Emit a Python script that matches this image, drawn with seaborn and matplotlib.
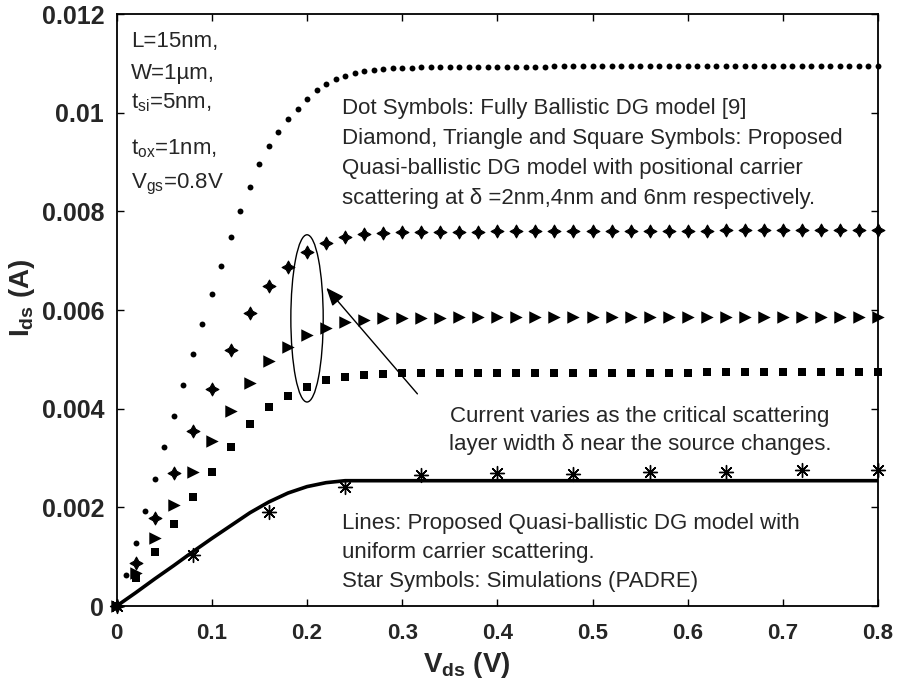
import numpy as np
import pandas as pd
import matplotlib
matplotlib.use('Agg')
import matplotlib.pyplot as plt
from matplotlib.patches import Ellipse
import seaborn as sns

# Vds sweep points (V)
vds_fine = np.round(np.arange(0, 0.801, 0.01), 2)    # fully ballistic model (dots)
vds_coarse = np.round(np.arange(0, 0.801, 0.02), 2)  # quasi-ballistic symbols

# Fully ballistic DG model [9] (A)
ids_ballistic = [
    0, 0.00063, 0.00128, 0.00193, 0.00257, 0.00322, 0.00385, 0.00448, 0.00511, 0.00572,
    0.00632, 0.00690, 0.00747, 0.00801, 0.00850, 0.00896, 0.00933, 0.00961, 0.00987, 0.01008,
    0.01028, 0.01045, 0.01058, 0.01068, 0.01075, 0.01081, 0.01084, 0.01087, 0.01089, 0.01090,
    0.01091, 0.01091, 0.01092, 0.01092, 0.01092, 0.01092, 0.01093, 0.01093, 0.01093, 0.01093,
    0.01093, 0.01093, 0.01093, 0.01093, 0.01093, 0.01093, 0.01094, 0.01094, 0.01094, 0.01094,
    0.01094, 0.01094, 0.01094, 0.01094, 0.01094, 0.01094, 0.01094, 0.01094, 0.01094, 0.01094,
    0.01094, 0.01094, 0.01094, 0.01094, 0.01094, 0.01094, 0.01095, 0.01095, 0.01095, 0.01095,
    0.01095, 0.01095, 0.01095, 0.01095, 0.01095, 0.01095, 0.01095, 0.01095, 0.01095, 0.01095,
    0.01095,
]

# positional scattering, delta = 2nm (diamonds), 4nm (triangles), 6nm (squares)
ids_delta2 = [
    0, 0.00088, 0.00178, 0.00270, 0.00355, 0.00440, 0.00518, 0.00593, 0.00649, 0.00688,
    0.00717, 0.00735, 0.00747, 0.00754, 0.00757, 0.00758, 0.00758, 0.00759, 0.00759, 0.00759,
    0.00760, 0.00760, 0.00760, 0.00760, 0.00760, 0.00761, 0.00761, 0.00761, 0.00761, 0.00761,
    0.00761, 0.00761, 0.00762, 0.00762, 0.00762, 0.00762, 0.00762, 0.00762, 0.00762, 0.00762,
    0.00762,
]
ids_delta4 = [
    0, 0.00066, 0.00138, 0.00205, 0.00272, 0.00335, 0.00396, 0.00453, 0.00497, 0.00524,
    0.00549, 0.00564, 0.00575, 0.00580, 0.00583, 0.00584, 0.00584, 0.00584, 0.00585, 0.00585,
    0.00585, 0.00585, 0.00585, 0.00585, 0.00585, 0.00585, 0.00586, 0.00586, 0.00586, 0.00586,
    0.00586, 0.00586, 0.00586, 0.00586, 0.00586, 0.00586, 0.00586, 0.00586, 0.00586, 0.00586,
    0.00586,
]
ids_delta6 = [
    0, 0.00057, 0.00109, 0.00166, 0.00220, 0.00272, 0.00323, 0.00369, 0.00404, 0.00426,
    0.00443, 0.00458, 0.00465, 0.00468, 0.00471, 0.00472, 0.00472, 0.00472, 0.00472, 0.00472,
    0.00472, 0.00473, 0.00473, 0.00473, 0.00473, 0.00473, 0.00473, 0.00473, 0.00473, 0.00473,
    0.00473, 0.00474, 0.00474, 0.00474, 0.00474, 0.00474, 0.00474, 0.00474, 0.00474, 0.00474,
    0.00474,
]

# uniform carrier scattering model (line)
vds_uniform = [0, 0.02, 0.04, 0.06, 0.08, 0.10, 0.12, 0.14, 0.16, 0.18, 0.20, 0.22, 0.24, 0.26, 0.80]
ids_uniform = [0, 0.00027, 0.00055, 0.00082, 0.00110, 0.00137, 0.00163, 0.00189, 0.00211,
               0.00229, 0.00242, 0.00250, 0.00254, 0.00254, 0.00254]

# PADRE simulations (stars)
vds_padre = [0, 0.08, 0.16, 0.24, 0.32, 0.40, 0.48, 0.56, 0.64, 0.72, 0.80]
ids_padre = [0, 0.00103, 0.00191, 0.00241, 0.00266, 0.00269, 0.00268, 0.00272, 0.00272,
             0.00276, 0.00276]

xticks = [0, 0.1, 0.2, 0.3, 0.4, 0.5, 0.6, 0.7, 0.8]
xtick_labels = ['0', '0.1', '0.2', '0.3', '0.4', '0.5', '0.6', '0.7', '0.8']
yticks = [0, 0.002, 0.004, 0.006, 0.008, 0.01, 0.012]
ytick_labels = ['0', '0.002', '0.004', '0.006', '0.008', '0.01', '0.012']

sns.set_style('ticks')
plt.rcParams['font.family'] = ['Liberation Sans', 'DejaVu Sans']
plt.rcParams['mathtext.fontset'] = 'custom'
plt.rcParams['mathtext.rm'] = 'Liberation Sans'
plt.rcParams['mathtext.it'] = 'Liberation Sans'
plt.rcParams['mathtext.bf'] = 'Liberation Sans:bold'
plt.rcParams['xtick.direction'] = 'in'
plt.rcParams['ytick.direction'] = 'in'
plt.rcParams['xtick.top'] = True
plt.rcParams['ytick.right'] = True

W, H = 898, 698
fig = plt.figure(figsize=(W / 100, H / 100), dpi=100)
ax = fig.add_axes([116.7 / W, 1 - 606 / H, (878 - 116.7) / W, (606 - 14) / H])

ball = pd.DataFrame({'Vds': vds_fine, 'Ids': ids_ballistic})
pos = pd.DataFrame({'Vds': vds_coarse, 'd2': ids_delta2, 'd4': ids_delta4, 'd6': ids_delta6})
uni = pd.DataFrame({'Vds': vds_uniform, 'Ids': ids_uniform})
padre = pd.DataFrame({'Vds': vds_padre, 'Ids': ids_padre})

sns.lineplot(data=uni, x='Vds', y='Ids', color='black', linewidth=2.6, ax=ax, zorder=2)
sns.scatterplot(data=ball, x='Vds', y='Ids', marker='o', s=18, color='black',
                linewidth=0, ax=ax, zorder=3, clip_on=False)
sns.scatterplot(data=pos, x='Vds', y='d2', marker=(4, 1, 0), s=85, color='black',
                linewidth=0.8, edgecolor='black', ax=ax, zorder=3, clip_on=False)
sns.scatterplot(data=pos, x='Vds', y='d4', marker='>', s=80, color='black',
                linewidth=0, ax=ax, zorder=3, clip_on=False)
sns.scatterplot(data=pos, x='Vds', y='d6', marker='s', s=40, color='black',
                linewidth=0, ax=ax, zorder=3, clip_on=False)
ax.scatter(padre['Vds'], padre['Ids'], marker=(8, 2, 0), s=100, color='black',
           linewidths=1.0, zorder=4, clip_on=False)

ax.set_xlim(0, 0.8)
ax.set_ylim(0, 0.012)
ax.set_xticks(xticks)
ax.set_xticklabels(xtick_labels, family=['Liberation Sans Narrow', 'Liberation Sans'],
                   fontweight='bold', fontsize=16)
ax.set_yticks(yticks)
ax.set_yticklabels(ytick_labels, fontweight='bold', fontsize=18)
ax.tick_params(axis='both', length=5, width=1, color='black')
ax.tick_params(axis='x', pad=12)
ax.tick_params(axis='y', pad=9)
for sp in ax.spines.values():
    sp.set_linewidth(1.3)
    sp.set_color('black')

ax.set_xlabel(r'$\mathbf{V_{ds}}$ (V)', fontsize=20, fontweight='bold')
ax.set_ylabel(r'$\mathbf{I_{ds}}$ (A)', fontsize=20, fontweight='bold')
ax.xaxis.set_label_coords(0.46, -0.075)
ax.yaxis.set_label_coords(-0.105, 0.52)

# ellipse marking the symbols at Vds = 0.2 V, with arrow
ax.add_patch(Ellipse((0.2, 0.00583), 0.034, 0.00339, fill=False, edgecolor='black',
                     linewidth=1.0, zorder=5))
ax.annotate('', xy=(0.2203, 0.00645), xytext=(0.316, 0.0043),
            arrowprops=dict(arrowstyle='-|>,head_length=1.1,head_width=0.45',
                            color='black', lw=1.0, shrinkA=0, shrinkB=0))


def px(x, y):
    return x / W, 1 - y / H


fs = 16
params = ['L=15nm,', 'W=1\u00b5m,', r'$\mathrm{t_{si}}$=5nm,', r'$\mathrm{t_{ox}}$=1nm,',
          r'$\mathrm{V_{gs}}$=0.8V']
base_y = [47, 79, 108, 154, 188]
for t, yb in zip(params, base_y):
    fig.text(*px(131, yb), t, fontsize=fs, va='baseline', ha='left')

model_text = ['Dot Symbols: Fully Ballistic DG model [9]',
              'Diamond, Triangle and Square Symbols: Proposed',
              'Quasi-ballistic DG model with positional carrier',
              'scattering at \u03b4 =2nm,4nm and 6nm respectively.']
for i, t in enumerate(model_text):
    fig.text(*px(342, 114 + 30 * i), t, fontsize=fs, va='baseline', ha='left')

note_text = ['Current varies as the critical scattering',
             'layer width \u03b4 near the source changes.']
for i, t in enumerate(note_text):
    fig.text(*px(640, 422 + 28 * i), t, fontsize=fs, va='baseline', ha='center')

line_text = ['Lines: Proposed Quasi-ballistic DG model with',
             'uniform carrier scattering.',
             'Star Symbols: Simulations (PADRE)']
for i, t in enumerate(line_text):
    fig.text(*px(342, 529 + 29 * i), t, fontsize=fs, va='baseline', ha='left')

fig.savefig('out.png', dpi=100)
